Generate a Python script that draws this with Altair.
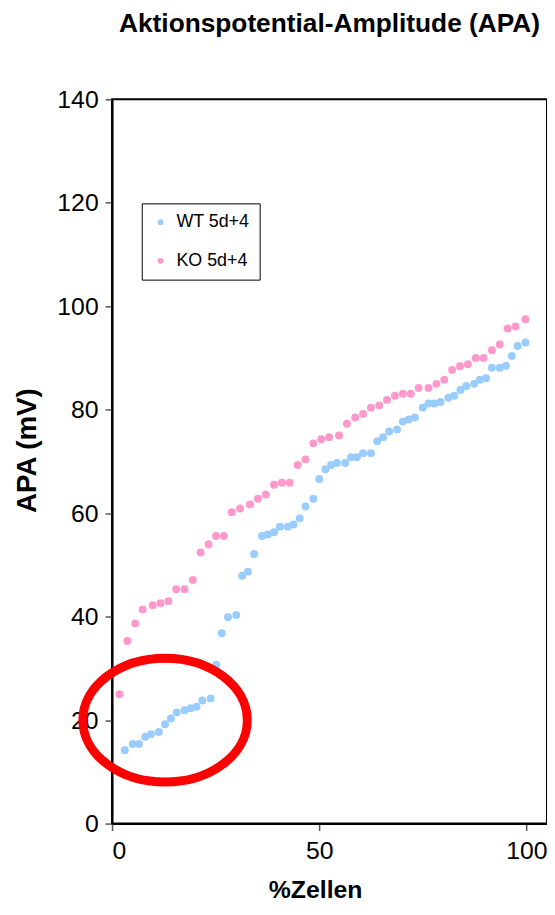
import altair as alt
import pandas as pd

# ---- data ----
wt_label = "WT 5d+4"
ko_label = "KO 5d+4"

wt_x = [3.1, 5.0, 6.5, 8.0, 9.4, 11.3, 12.8, 14.2, 15.6, 17.5, 19.0, 20.4, 21.8, 23.8, 25.2,
        26.5, 28.0, 30.0, 31.4, 32.8, 34.3, 36.2, 37.6, 39.1, 40.5, 42.4, 43.8, 45.3, 46.7,
        48.6, 50.0, 51.5, 52.9, 54.3, 56.3, 57.7, 59.1, 60.6, 62.5, 64.0, 65.4, 66.9, 68.8,
        70.2, 71.6, 73.1, 75.0, 76.4, 77.8, 79.3, 81.2, 82.6, 84.1, 85.5, 87.4, 88.8, 90.3,
        91.7, 93.6, 95.1, 96.5, 97.9, 99.8]
wt_y = [14.2, 15.4, 15.4, 16.8, 17.3, 17.7, 19.2, 20.3, 21.5, 21.9, 22.3, 22.6, 23.8, 24.2, 30.7,
        36.8, 39.9, 40.3, 47.9, 48.7, 52.1, 55.6, 55.9, 56.3, 57.4, 57.4, 57.8, 59.0, 61.3,
        62.8, 66.6, 68.5, 69.3, 69.7, 69.7, 70.8, 70.8, 71.6, 71.6, 73.9, 74.7, 75.8, 76.2,
        77.7, 78.1, 78.5, 80.4, 81.2, 81.2, 81.5, 82.3, 82.7, 83.8, 84.6, 85.0, 85.8, 86.1,
        88.1, 88.1, 88.5, 90.4, 92.3, 93.0]

ko_x = [1.8, 3.7, 5.6, 7.4, 9.8, 11.7, 13.6, 15.5, 17.5, 19.5, 21.4, 23.3, 25.1, 27.0, 28.9,
        30.9, 33.3, 35.2, 37.1, 39.1, 41.0, 42.9, 44.8, 46.7, 48.6, 50.5, 52.4, 54.8, 56.7,
        58.7, 60.6, 62.5, 64.5, 66.4, 68.3, 70.2, 72.1, 74.0, 76.4, 78.3, 80.2, 82.1, 84.0,
        85.9, 87.8, 89.7, 91.7, 93.6, 95.5, 97.4, 99.8]
ko_y = [25.0, 35.3, 38.7, 41.4, 42.2, 42.6, 43.0, 45.3, 45.3, 47.1, 52.4, 54.0, 55.6, 55.6, 60.2,
        60.9, 61.7, 62.8, 63.6, 65.5, 65.9, 65.9, 69.3, 70.4, 73.5, 74.3, 74.7, 75.0, 77.3,
        78.5, 79.2, 80.4, 80.8, 81.9, 82.7, 83.1, 83.1, 84.2, 84.2, 85.0, 85.8, 87.7, 88.4,
        88.8, 90.0, 90.0, 91.5, 92.6, 95.7, 96.1, 97.5]

x_ticks = [0, 50, 100]
y_ticks = [0, 20, 40, 60, 80, 100, 120, 140]

# red highlight ellipse (annotation) centre in data units
ellipse_x = [12.8]
ellipse_y = [20.0]

title_text = "Aktionspotential-Amplitude (APA)"
x_title = "%Zellen"
y_title = "APA (mV)"

FONT = "Liberation Sans"

df = pd.concat([
    pd.DataFrame({"x": wt_x, "y": wt_y, "series": wt_label}),
    pd.DataFrame({"x": ko_x, "y": ko_y, "series": ko_label}),
], ignore_index=True)
df["order"] = df["series"].map({wt_label: 0, ko_label: 1})

x_scale = alt.Scale(domain=[0, 105], nice=False, zero=False)
y_scale = alt.Scale(domain=[0, 140], nice=False)

points = alt.Chart(df).mark_point(filled=True, opacity=1, size=64, strokeWidth=0).encode(
    x=alt.X("x:Q", scale=x_scale,
            axis=alt.Axis(values=x_ticks, title=x_title, grid=False,
                          titleX=205, titleY=67, titleBaseline="middle", titleAlign="center",
                          titleFontSize=25)),
    y=alt.Y("y:Q", scale=y_scale,
            axis=alt.Axis(values=y_ticks, title=y_title, grid=False,
                          titleX=-85, titleY=354, titleBaseline="middle", titleAlign="center",
                          titleAngle=270, titleFontSize=28)),
    color=alt.Color("series:N",
                    scale=alt.Scale(domain=[wt_label, ko_label], range=["#99CCFF", "#FF99CC"]),
                    legend=alt.Legend(title=None, orient="none", legendX=30, legendY=105,
                                      symbolSize=34, symbolType="circle",
                                      labelFontSize=18, labelFont=FONT, labelColor="black",
                                      labelOffset=7, rowPadding=21, padding=10,
                                      strokeColor="black", fillColor="white")),
    order=alt.Order("order:Q"),
)

ellipse_path = ("M-1,0C-1,-0.4159,-0.5523,-0.753,0,-0.753C0.5523,-0.753,1,-0.4159,1,0"
                "C1,0.4159,0.5523,0.753,0,0.753C-0.5523,0.753,-1,0.4159,-1,0Z")
ell_df = pd.DataFrame({"x": ellipse_x, "y": ellipse_y})
ellipse = alt.Chart(ell_df).mark_point(
    shape=ellipse_path, filled=False, stroke="#FF0000", strokeWidth=9, opacity=1,
    size=27556,
).encode(x=alt.X("x:Q", scale=x_scale), y=alt.Y("y:Q", scale=y_scale))

chart = alt.layer(points, ellipse).properties(
    width=439, height=731,
    title=alt.TitleParams(title_text, fontSize=26.5, fontWeight="bold", font=FONT,
                          anchor="middle", offset=50, color="black"),
    autosize=alt.AutoSizeParams(type="none"),
    padding={"left": 105, "top": 88, "right": 0, "bottom": 78},
).configure_view(
    stroke="black", strokeWidth=2
).configure_axis(
    labelFont=FONT, labelFontSize=25, labelColor="black",
    titleFont=FONT, titleFontWeight="bold", titleColor="black",
    domainColor="black", domainWidth=2, tickColor="#555555", tickSize=7, tickWidth=1.5,
).configure_axisY(labelPadding=7).configure_axisX(labelPadding=8)

chart.save("out.html", embed_options={"renderer": "svg", "actions": False})
